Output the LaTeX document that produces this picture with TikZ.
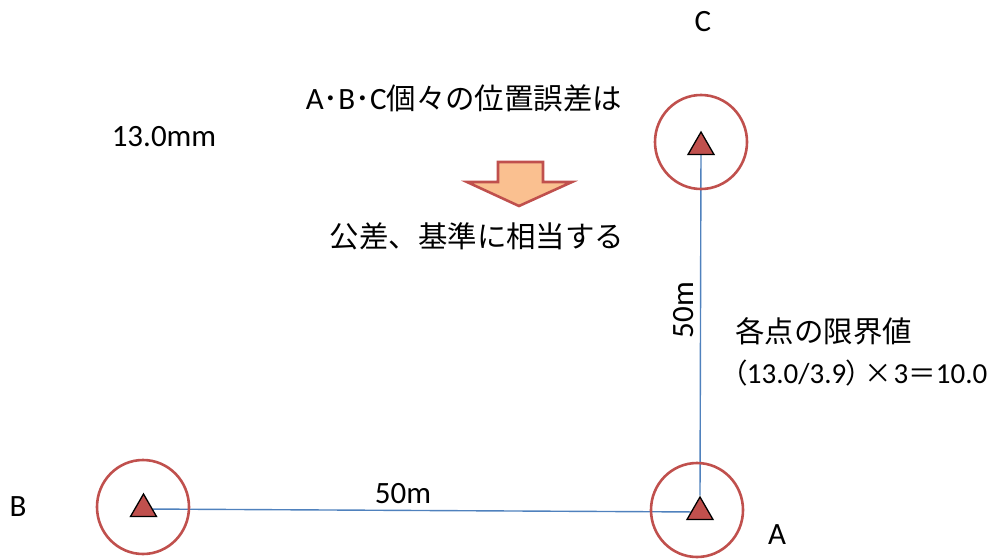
\documentclass[tikz,border=0pt]{standalone}
\usepackage{fontspec}
\setmainfont{Carlito}
\newfontfamily\jp[Scale=0.95]{Noto Sans CJK JP}
\newfontfamily\jpp[Scale=0.95,RawFeature=+palt]{Noto Sans CJK JP}
\usetikzlibrary{shapes.geometric,backgrounds}
\definecolor{redc}{HTML}{C0504D}
\definecolor{bluel}{HTML}{4F81BD}
\definecolor{orangef}{HTML}{FAC090}
\begin{document}
\begin{tikzpicture}[x=1pt,y=-1pt,
  every node/.style={font=\fontsize{31}{36}\selectfont, inner sep=0pt},
  ring/.style={draw=redc, line width=2.6pt, ellipse, minimum width=92pt, minimum height=94pt},
  tri/.style={draw=black, line width=1.3pt, fill=redc, regular polygon, regular polygon sides=3, minimum size=30pt},
  link/.style={draw=bluel, line width=1.4pt},
  lbl/.style={text=black}]
\useasboundingbox (0,0) rectangle (1008,559);
% circles
\node[ring] (Cr) at (701,142) {};
\node[ring] (Br) at (143,507) {};
\node[ring] (Ar) at (697,510) {};
% triangles
\node[tri] (Ct) at (701,147) {};
\node[tri] (Bt) at (143.5,509) {};
\node[tri] (At) at (700,512) {};
\begin{pgfonlayer}{background}
\draw[link] (Ct) -- (At.corner 1);
\draw[link] (Bt) -- (At);
\end{pgfonlayer}
% arrow
\filldraw[draw=redc, fill=orangef, line width=2.6pt, line join=miter]
  (498,162) -- (543,162) -- (543,182) -- (572,182) -- (519,206) -- (467,182) -- (498,182) -- cycle;
% labels
\node[lbl] (lC) at (703,22) {C};
\node[lbl] (lB) at (18,507) {B};
\node[lbl] (lA) at (777,535) {A};
\node[lbl] (mm) at (164,137) {13.0mm};
\node[lbl] (t1) at (464,98) {A{\jp ･}B{\jp ･}C{\jp 個々の位置誤差は}};
\node[lbl] (t2) at (477,236) {\jp 公差、基準に相当する};
\node[lbl] (d1) at (403,494) {50m};
\node[lbl, rotate=90] (d2) at (684,310) {50m};
\node[lbl, anchor=west] (t3) at (735,331) {\jp 各点の限界値};
\node[lbl, anchor=west, font=\fontsize{29}{34}\selectfont] (t4) at (733,373) {{\jpp （}13.0/3.9{\jpp ）}\kern4pt{\jpp ×}\kern2pt 3{\jpp ＝}10.0};
\end{tikzpicture}
\end{document}
